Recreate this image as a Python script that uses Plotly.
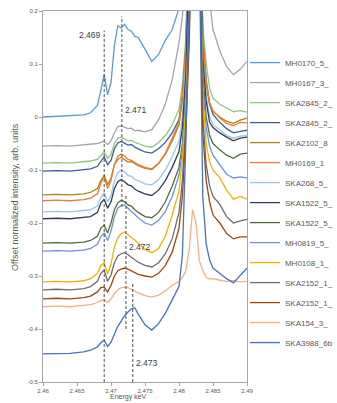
import plotly.graph_objects as go

# ---------------- data ----------------
energy = [2.460, 2.462, 2.464, 2.466, 2.467, 2.468, 2.4685, 2.469, 2.4695, 2.470,
          2.4705, 2.471, 2.4715, 2.472, 2.4725, 2.473, 2.4735, 2.474, 2.475, 2.476,
          2.477, 2.478, 2.479, 2.480, 2.4805, 2.481, 2.4815, 2.482, 2.4825, 2.483,
          2.4835, 2.484, 2.4845, 2.485, 2.486, 2.487, 2.488, 2.489, 2.490]

series_names = ["MH0170_5_", "MH0167_3_", "SKA2845_2_", "SKA2845_2_", "SKA2102_8",
                "MH0169_1", "SKA268_5_", "SKA1522_5_", "SKA1522_5_", "MH0819_5_",
                "MH0108_1_", "SKA2152_1_", "SKA2152_1_", "SKA154_3_", "SKA3988_6b"]

mh0170_5 = [0.000, 0.001, 0.002, 0.004, 0.008, 0.022, 0.050, 0.080, 0.042, 0.065,
            0.135, 0.172, 0.168, 0.175, 0.165, 0.162, 0.152, 0.150, 0.128, 0.105,
            0.118, 0.145, 0.165, 0.205, 0.240, 0.300, 0.550, 0.900, 1.000, 0.950,
            0.800, 0.600, 0.500, 0.420, 0.360, 0.320, 0.300, 0.310, 0.300]
mh0167_3 = [-0.055, -0.054, -0.055, -0.053, -0.052, -0.050, -0.048, -0.046, -0.052, -0.045,
            -0.030, -0.018, -0.017, -0.020, -0.022, -0.021, -0.026, -0.025, -0.028, -0.024,
            -0.005, 0.025, 0.070, 0.140, 0.190, 0.300, 0.500, 0.800, 0.950, 0.900,
            0.550, 0.350, 0.220, 0.165, 0.125, 0.095, 0.080, 0.090, 0.105]
ska2845_2a = [-0.087, -0.086, -0.087, -0.085, -0.083, -0.080, -0.072, -0.066, -0.078, -0.070,
              -0.050, -0.040, -0.038, -0.041, -0.045, -0.044, -0.048, -0.050, -0.055, -0.057,
              -0.048, -0.035, -0.015, 0.015, 0.060, 0.150, 0.330, 0.720, 0.860, 0.520,
              0.170, 0.100, 0.055, 0.035, 0.024, 0.017, 0.010, 0.012, 0.009]
ska2845_2b = [-0.102, -0.101, -0.102, -0.100, -0.098, -0.093, -0.083, -0.075, -0.090, -0.082,
              -0.060, -0.049, -0.046, -0.050, -0.053, -0.052, -0.057, -0.060, -0.066, -0.068,
              -0.060, -0.048, -0.030, -0.005, 0.040, 0.130, 0.300, 0.700, 0.850, 0.500,
              0.150, 0.070, 0.025, 0.005, -0.010, -0.022, -0.030, -0.027, -0.025]
ska2102_8 = [-0.147, -0.146, -0.147, -0.145, -0.142, -0.135, -0.120, -0.110, -0.128, -0.115,
             -0.090, -0.080, -0.076, -0.080, -0.085, -0.084, -0.088, -0.092, -0.097, -0.099,
             -0.088, -0.070, -0.045, -0.015, 0.030, 0.120, 0.290, 0.680, 0.840, 0.480,
             0.140, 0.060, 0.025, 0.010, 0.000, -0.008, -0.012, -0.006, -0.002]
mh0169_1 = [-0.158, -0.157, -0.158, -0.156, -0.153, -0.145, -0.125, -0.112, -0.135, -0.120,
            -0.090, -0.074, -0.070, -0.074, -0.080, -0.082, -0.086, -0.090, -0.095, -0.098,
            -0.087, -0.068, -0.040, -0.010, 0.035, 0.130, 0.300, 0.690, 0.850, 0.490,
            0.150, 0.065, 0.028, 0.012, -0.002, -0.012, -0.016, -0.010, -0.011]
ska268_5 = [-0.179, -0.178, -0.179, -0.177, -0.175, -0.168, -0.152, -0.143, -0.160, -0.148,
            -0.120, -0.105, -0.100, -0.104, -0.110, -0.112, -0.118, -0.120, -0.126, -0.128,
            -0.118, -0.100, -0.075, -0.045, 0.000, 0.100, 0.270, 0.660, 0.830, 0.460,
            0.120, 0.040, 0.000, -0.014, -0.025, -0.035, -0.040, -0.036, -0.035]
ska1522_5a = [-0.192, -0.191, -0.192, -0.190, -0.188, -0.180, -0.163, -0.155, -0.172, -0.160,
              -0.135, -0.122, -0.118, -0.122, -0.128, -0.130, -0.136, -0.140, -0.145, -0.148,
              -0.138, -0.120, -0.095, -0.065, -0.020, 0.080, 0.250, 0.640, 0.820, 0.450,
              0.110, 0.030, -0.010, -0.020, -0.030, -0.038, -0.045, -0.040, -0.038]
ska1522_5b = [-0.238, -0.237, -0.238, -0.236, -0.233, -0.225, -0.210, -0.204, -0.219, -0.200,
              -0.175, -0.162, -0.157, -0.160, -0.166, -0.168, -0.175, -0.180, -0.188, -0.190,
              -0.180, -0.160, -0.130, -0.095, -0.050, 0.050, 0.220, 0.620, 0.800, 0.430,
              0.080, 0.000, -0.035, -0.050, -0.062, -0.072, -0.078, -0.070, -0.068]
mh0819_5 = [-0.253, -0.252, -0.253, -0.251, -0.248, -0.240, -0.226, -0.219, -0.233, -0.215,
            -0.188, -0.172, -0.167, -0.166, -0.172, -0.178, -0.185, -0.190, -0.200, -0.204,
            -0.195, -0.178, -0.150, -0.110, -0.065, 0.030, 0.200, 0.600, 0.780, 0.420,
            0.060, -0.020, -0.055, -0.072, -0.090, -0.108, -0.115, -0.113, -0.115]
mh0108_1 = [-0.311, -0.310, -0.311, -0.309, -0.305, -0.295, -0.280, -0.275, -0.296, -0.278,
            -0.245, -0.228, -0.220, -0.217, -0.222, -0.228, -0.232, -0.238, -0.250, -0.256,
            -0.248, -0.225, -0.185, -0.140, -0.080, 0.020, 0.180, 0.580, 0.760, 0.400,
            0.040, -0.050, -0.085, -0.100, -0.115, -0.138, -0.155, -0.150, -0.155]
ska2152_1a = [-0.326, -0.325, -0.326, -0.324, -0.320, -0.310, -0.295, -0.289, -0.310, -0.298,
              -0.275, -0.262, -0.258, -0.256, -0.260, -0.265, -0.270, -0.274, -0.280, -0.283,
              -0.275, -0.258, -0.230, -0.180, -0.120, -0.010, 0.160, 0.560, 0.740, 0.380,
              0.000, -0.090, -0.130, -0.150, -0.165, -0.188, -0.200, -0.196, -0.193]
ska2152_1b = [-0.343, -0.342, -0.343, -0.341, -0.338, -0.330, -0.322, -0.321, -0.330, -0.318,
              -0.300, -0.290, -0.287, -0.285, -0.287, -0.290, -0.294, -0.297, -0.300, -0.302,
              -0.295, -0.280, -0.255, -0.210, -0.150, -0.030, 0.140, 0.540, 0.720, 0.360,
              -0.030, -0.120, -0.160, -0.185, -0.200, -0.220, -0.230, -0.226, -0.226]
ska154_3 = [-0.358, -0.357, -0.358, -0.356, -0.354, -0.350, -0.346, -0.345, -0.350, -0.343,
            -0.333, -0.326, -0.322, -0.321, -0.322, -0.325, -0.329, -0.332, -0.337, -0.340,
            -0.336, -0.328, -0.318, -0.310, -0.303, -0.290, -0.250, -0.175, -0.200, -0.272,
            -0.290, -0.303, -0.306, -0.305, -0.308, -0.310, -0.309, -0.311, -0.310]
ska3988_6b = [-0.447, -0.446, -0.446, -0.443, -0.440, -0.434, -0.426, -0.421, -0.433, -0.425,
              -0.410, -0.395, -0.385, -0.375, -0.368, -0.362, -0.360, -0.372, -0.392, -0.402,
              -0.390, -0.370, -0.345, -0.320, -0.260, -0.050, 0.220, 0.550, 0.600, 0.300,
              -0.150, -0.240, -0.270, -0.285, -0.295, -0.305, -0.313, -0.300, -0.285]

all_series = [mh0170_5, mh0167_3, ska2845_2a, ska2845_2b, ska2102_8, mh0169_1, ska268_5,
              ska1522_5a, ska1522_5b, mh0819_5, mh0108_1, ska2152_1a, ska2152_1b,
              ska154_3, ska3988_6b]

# marked energies (dashed guides) and their labels
marker_energies = [2.469, 2.4716, 2.4722, 2.4732]
marker_labels = ["2.469", "2.471", "2.472", "2.473"]

y_tickvals = [0.2, 0.1, 0, -0.1, -0.2, -0.3, -0.4, -0.5]
y_ticktext = ["0.2", "0.1", "0", "-0.1", "-0.2", "-0.3", "-0.4", "-0.5"]
x_tickvals = [2.46, 2.465, 2.47, 2.475, 2.48, 2.485, 2.49]
x_ticktext = ["2.46", "2.465", "2.47", "2.475", "2.48", "2.485", "2.49"]

# ---------------- styles ----------------
colors = ["#5B9BD5", "#A5A5A5", "#93C47D", "#3A5F9A", "#A8841E", "#ED7D31", "#9DC3E6",
          "#2F3E5C", "#4F6E3A", "#6F93D3", "#F0B400", "#6E6E6E", "#9E480E", "#F4B183",
          "#4472C4"]

FONT = "Liberation Sans, Arial, sans-serif"
TXT = "#595959"

fig = go.Figure()
for i, (name, ys) in enumerate(zip(series_names, all_series)):
    fig.add_trace(go.Scatter(
        x=energy, y=ys, mode="lines", name=name,
        line=dict(color=colors[i], width=1.3),
        legendgroup=f"g{i}", hoverinfo="skip"))

# dashed guide lines
guide_spans = [(-0.5, 0.163), (-0.17, 0.19), (-0.40, -0.147), (-0.5, -0.313)]
for e, (y0, y1) in zip(marker_energies, guide_spans):
    fig.add_shape(type="line", xref="x", yref="y", x0=e, x1=e, y0=y0, y1=y1,
                  line=dict(color="#4D4D4D", width=1, dash="3px,2px"))

label_pos = [(0.155, "right", -1), (0.013, "left", 1), (-0.245, "left", 1), (-0.464, "left", 1)]
for e, lab, (yv, anc, sh) in zip(marker_energies, marker_labels, label_pos):
    fig.add_annotation(x=e, y=yv, xref="x", yref="y", text=lab, showarrow=False,
                       xanchor=anc, xshift=sh, font=dict(family=FONT, size=8.5, color="#404040"))

# axis titles as annotations
fig.add_annotation(x=0.4167, y=-0.054, xref="paper", yref="paper", text="Energy keV",
                   showarrow=False, xanchor="center", yanchor="bottom", borderpad=0,
                   font=dict(family=FONT, size=7, color=TXT))
fig.add_annotation(x=-0.14, y=0.5, xref="paper", yref="paper",
                   text="Offset normalized intensity, arb. units", textangle=-90,
                   showarrow=False, xanchor="center", yanchor="middle",
                   font=dict(family=FONT, size=9, color=TXT))

axis_common = dict(showgrid=False, zeroline=False, showline=True, linecolor="#A6A6A6",
                   linewidth=1, mirror=True, ticks="outside", ticklen=3,
                   tickcolor="#A6A6A6", tickfont=dict(family=FONT, size=6, color=TXT))

fig.update_layout(
    width=337, height=403,
    margin=dict(l=43, r=90, t=11, b=21, autoexpand=False),
    paper_bgcolor="white", plot_bgcolor="white",
    xaxis=dict(range=[2.46, 2.49], tickvals=x_tickvals, ticktext=x_ticktext, **axis_common),
    yaxis=dict(range=[-0.5, 0.2], tickvals=y_tickvals, ticktext=y_ticktext, **axis_common),
    showlegend=True,
    legend=dict(x=0.99, xanchor="left", y=0.90, yanchor="top",
                font=dict(family=FONT, size=8, color=TXT), tracegroupgap=1,
                bgcolor="rgba(0,0,0,0)", borderwidth=0),
)

fig.write_html("out.html", config={"displayModeBar": False},
               post_script="document.body.style.margin='0px';")
